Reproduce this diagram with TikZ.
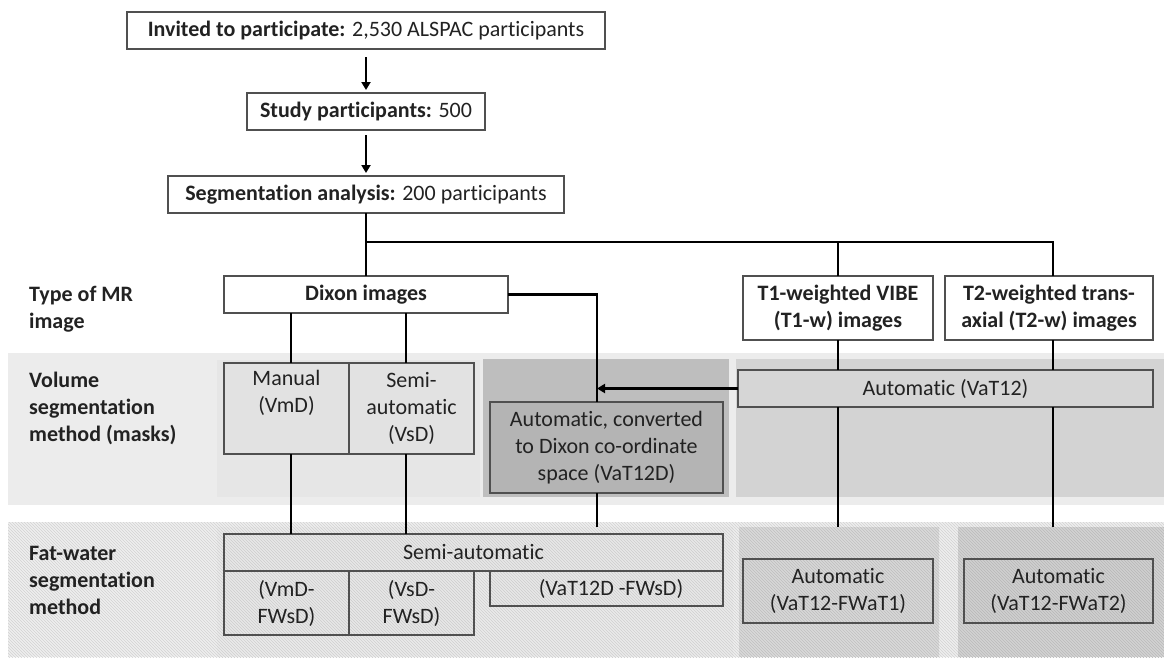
\documentclass[tikz,border=0pt]{standalone}
\usepackage{fontspec}
\setmainfont{Carlito}[Ligatures=NoCommon]
\usetikzlibrary{arrows.meta,patterns}
\definecolor{txt}{HTML}{222222}
\definecolor{boxline}{HTML}{505050}
\definecolor{bandV}{HTML}{ECECEC}
\definecolor{regVa}{HTML}{E6E6E6}
\definecolor{regVb}{HTML}{BEBEBE}
\definecolor{regVc}{HTML}{D3D3D3}
\definecolor{bandF}{HTML}{EFEFEF}
\definecolor{regFa}{HTML}{EBEBEB}
\definecolor{regFb}{HTML}{DADADA}
\definecolor{regFc}{HTML}{D3D3D3}
\definecolor{fillMan}{HTML}{E2E2E2}
\definecolor{fillConv}{HTML}{B4B4B4}
\definecolor{fillAuto}{HTML}{D6D6D6}
\definecolor{fillSemi}{HTML}{E8E8E8}
\definecolor{fillFa}{HTML}{D8D8D8}
\definecolor{fillFb}{HTML}{D0D0D0}
\begin{document}
\begin{tikzpicture}[x=1pt,y=-1pt,
  font=\fontsize{22}{27}\selectfont,
  hatched/.style={preaction={fill=#1}, preaction={pattern=north west lines, pattern color=#1!88!black}},
  region/.style={draw=none, inner sep=0pt, outer sep=0pt, anchor=north west},
  box/.style={draw=boxline, line width=1.2pt, inner sep=0pt, outer sep=0pt, align=center, text=txt},
  wbox/.style={box, fill=white},
  bold/.style={font=\fontsize{22}{27}\selectfont\bfseries},
  lab/.style={anchor=west, align=left, text=txt, font=\fontsize{22}{27}\selectfont\bfseries, inner sep=0pt},
  conn/.style={line width=2.8pt, black},
  arr/.style={conn, -{Triangle[length=8pt,width=9pt]}}
]
\useasboundingbox (0,0) rectangle (1164,657);

% background bands
\node[region, fill=bandV, minimum width=1156, minimum height=152] (bV) at (8,353) {};
\node[region, fill=regVa, minimum width=263, minimum height=137] (rV1) at (217,360) {};
\node[region, fill=regVb, minimum width=246, minimum height=138] (rV2) at (483,359) {};
\node[region, fill=regVc, minimum width=428, minimum height=138] (rV3) at (736,359) {};
\node[region, hatched=bandF, minimum width=1156, minimum height=135] (bF) at (8,522) {};
\node[region, hatched=regFa, minimum width=516, minimum height=130] (rF1) at (217,527) {};
\node[region, hatched=regFb, minimum width=200, minimum height=130] (rF2) at (739,527) {};
\node[region, hatched=regFc, minimum width=206, minimum height=130] (rF3) at (958,527) {};

% left labels
\node[lab] (l1) at (29,309) {Type of MR\\image};
\node[lab] (l2) at (29,408) {Volume\\segmentation\\method (masks)};
\node[lab] (l3) at (29,580) {Fat-water\\segmentation\\method};

% top flow
\node[wbox, minimum width=478, minimum height=37] (inv) at (366,30.5) {\textbf{Invited to participate:} 2,530 ALSPAC participants};
\node[wbox, minimum width=238, minimum height=37] (study) at (366,111.5) {\textbf{Study participants:} 500};
\node[wbox, minimum width=396, minimum height=37] (seg) at (366,194.5) {\textbf{Segmentation analysis:} 200 participants};

% MR image types
\node[wbox, bold, minimum width=284, minimum height=37] (dixon) at (366,294.5) {Dixon images};
\node[wbox, bold, minimum width=190, minimum height=64] (t1) at (838,308) {T1-weighted VIBE\\(T1-w) images};
\node[wbox, bold, minimum width=208, minimum height=64] (t2) at (1049,308) {T2-weighted trans-\\axial (T2-w) images};

% volume segmentation
\node[box, fill=fillMan, minimum width=125, minimum height=91] (man) at (286.5,408.5) {Manual\\(VmD)\\\strut};
\node[box, fill=fillMan, minimum width=125, minimum height=91] (semv) at (411.5,408.5) {Semi-\\automatic\\(VsD)};
\node[box, fill=fillConv, minimum width=233, minimum height=91] (conv) at (606.5,447.5) {Automatic, converted\\to Dixon co-ordinate\\space (VaT12D)};
\node[box, fill=fillAuto, minimum width=415, minimum height=37] (vat) at (945.5,388.5) {Automatic (VaT12)};

% fat-water segmentation
\node[box, hatched=fillSemi, minimum width=499, minimum height=37] (semf) at (473.5,552.5) {Semi-automatic};
\node[box, hatched=fillSemi, minimum width=125, minimum height=64] (fw1) at (286.5,603) {(VmD-\\FWsD)};
\node[box, hatched=fillSemi, minimum width=125, minimum height=64] (fw2) at (411.5,603) {(VsD-\\FWsD)};
\node[box, hatched=fillSemi, minimum width=233, minimum height=35] (fw3) at (606.5,588.5) {\hspace*{9pt}(VaT12D -FWsD)};
\node[box, hatched=fillFa, minimum width=190, minimum height=64] (fa1) at (838,591) {Automatic\\(VaT12-FWaT1)};
\node[box, hatched=fillFb, minimum width=189, minimum height=64] (fa2) at (1058.5,591) {Automatic\\(VaT12-FWaT2)};

% helper coordinates
\coordinate (hub) at (366,242);
\coordinate (xm) at (291,0);
\coordinate (xs) at (406,0);
\coordinate (xd) at (597,0);
\coordinate (xt) at (1053,0);

% connectors
\draw[arr, shorten <=8pt, shorten >=3pt] (inv.south) -- (study.north);
\draw[arr, shorten <=5pt, shorten >=3pt] (study.south) -- (seg.north);
\draw[conn] (seg.south) -- (dixon.north);
\draw[conn] (hub) -| (t1.north);
\draw[conn] (hub) -| (t2.north -| xt);
\draw[conn] (dixon.south -| xm) -- (man.north -| xm);
\draw[conn] (dixon.south -| xs) -- (semv.north -| xs);
\draw[conn] (dixon.east) -| (conv.north -| xd);
\draw[conn] (t1.south) -- (vat.north -| t1.south);
\draw[conn] (t2.south -| xt) -- (vat.north -| xt);
\draw[arr] (vat.west) -- (vat.west -| xd);
\draw[conn] (man.south -| xm) -- (semf.north -| xm);
\draw[conn] (semv.south -| xs) -- (semf.north -| xs);
\draw[conn] (conv.south -| xd) -- (rF1.north -| xd);
\draw[conn] (vat.south -| t1.south) -- (rF2.north -| t1.south);
\draw[conn] (vat.south -| xt) -- (rF3.north -| xt);
\end{tikzpicture}
\end{document}
